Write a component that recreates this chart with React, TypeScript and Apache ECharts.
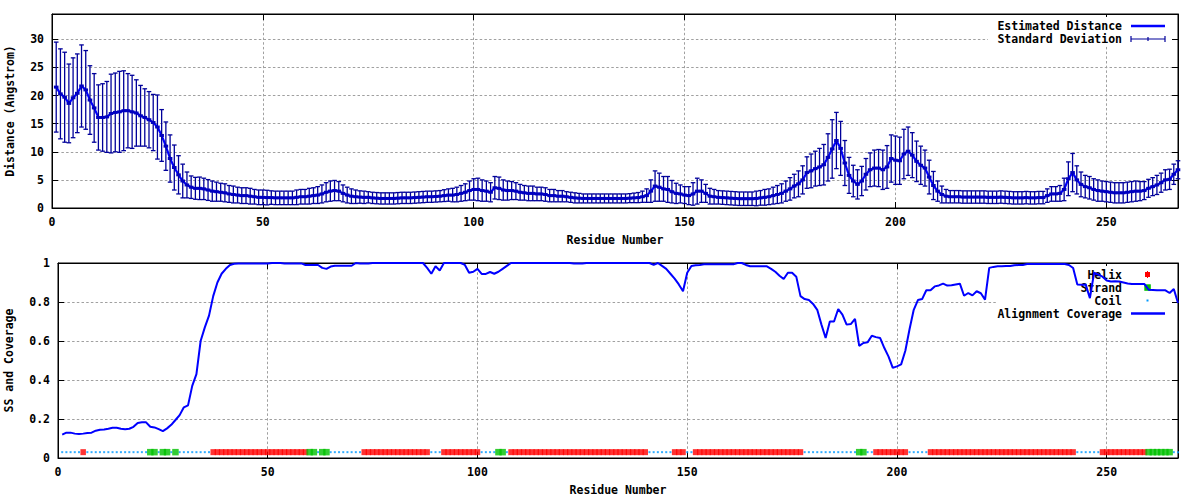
import React, { useEffect, useRef } from "react";
import * as echarts from "echarts";

// ---------- data (residues 1..267) ----------
const distanceMean = [
  21.5, 20.3, 19.7, 18.6, 19.6, 20.4, 21.7, 21.0, 19.2, 17.8,
  16.1, 16.1, 16.2, 16.8, 17.0, 17.1, 17.3, 17.3, 17.1, 16.9,
  16.4, 16.1, 15.7, 15.2, 14.4, 12.9, 11.0, 8.8, 7.2, 5.9,
  4.8, 4.1, 3.7, 3.5, 3.5, 3.4, 3.2, 3.0, 2.9, 2.8,
  2.7, 2.5, 2.4, 2.3, 2.2, 2.2, 2.1, 2.0, 1.9, 1.9,
  1.85, 1.85, 1.8, 1.8, 1.8, 1.8, 1.8, 1.9, 2.0, 2.0,
  2.1, 2.2, 2.3, 2.5, 2.8, 3.0, 3.1, 3.0, 2.6, 2.3,
  2.1, 2.0, 1.95, 1.9, 1.9, 1.8, 1.75, 1.7, 1.7, 1.7,
  1.7, 1.75, 1.8, 1.8, 1.8, 1.85, 1.9, 1.95, 2.0, 2.0,
  2.05, 2.1, 2.2, 2.3, 2.3, 2.4, 2.6, 2.8, 3.1, 3.3,
  3.3, 3.1, 3.0, 2.8, 3.6, 3.5, 3.2, 3.1, 3.1, 3.0,
  2.8, 2.7, 2.6, 2.6, 2.5, 2.5, 2.4, 2.2, 2.2, 2.1,
  2.1, 2.0, 1.9, 1.8, 1.75, 1.7, 1.7, 1.7, 1.7, 1.7,
  1.7, 1.7, 1.7, 1.7, 1.7, 1.7, 1.75, 1.8, 1.85, 2.0,
  2.2, 3.0, 3.9, 3.7, 3.4, 3.3, 2.9, 2.6, 2.5, 2.3,
  2.2, 2.5, 3.0, 3.0, 2.6, 2.1, 2.0, 1.9, 1.85, 1.8,
  1.75, 1.7, 1.65, 1.65, 1.65, 1.65, 1.7, 1.8, 1.9, 2.0,
  2.2, 2.4, 2.6, 3.0, 3.4, 3.9, 4.3, 5.0, 6.3, 6.6,
  7.0, 7.3, 7.7, 9.0, 10.5, 12.0, 10.6, 8.0, 5.8, 4.8,
  4.2, 4.8, 6.0, 6.8, 7.1, 7.1, 6.8, 7.3, 8.8, 8.5,
  8.4, 9.6, 10.1, 9.4, 8.3, 7.6, 7.1, 5.5, 4.0, 3.0,
  2.4, 2.1, 2.0, 2.0, 2.0, 1.95, 1.95, 1.95, 1.95, 1.95,
  1.95, 1.9, 1.9, 1.9, 1.95, 1.9, 1.85, 1.8, 1.8, 1.8,
  1.85, 1.8, 1.8, 1.85, 1.85, 2.2, 2.5, 2.5, 2.6, 3.3,
  5.2, 6.3, 5.0, 4.2, 3.8, 3.6, 3.3, 3.1, 3.0, 2.9,
  2.8, 2.7, 2.7, 2.7, 2.8, 2.9, 3.0, 3.0, 3.1, 3.5,
  3.8, 4.1, 4.5, 5.0, 5.1, 6.0, 6.8,
];

const distanceSd = [
  8.0, 8.0, 8.0, 7.0, 7.1, 7.0, 7.3, 7.0, 6.1, 6.1,
  5.8, 6.0, 6.3, 7.0, 7.0, 7.2, 7.1, 6.6, 6.5, 5.9,
  5.4, 5.1, 5.0, 5.0, 5.7, 4.6, 4.3, 4.2, 4.0, 3.4,
  3.0, 2.3, 2.0, 1.95, 2.0, 1.9, 1.85, 1.8, 1.7, 1.6,
  1.6, 1.5, 1.5, 1.4, 1.4, 1.4, 1.4, 1.3, 1.3, 1.3,
  1.3, 1.2, 1.2, 1.2, 1.2, 1.2, 1.2, 1.3, 1.3, 1.3,
  1.4, 1.4, 1.5, 1.6, 1.7, 1.8, 1.8, 1.7, 1.5, 1.4,
  1.3, 1.2, 1.1, 1.1, 1.0, 1.0, 1.0, 1.0, 1.0, 1.0,
  1.0, 1.0, 1.0, 1.0, 1.0, 1.0, 1.0, 1.0, 1.0, 1.0,
  1.0, 1.0, 1.05, 1.1, 1.2, 1.3, 1.4, 1.5, 1.7, 1.9,
  2.0, 1.9, 1.8, 1.7, 2.0, 2.0, 1.8, 1.7, 1.6, 1.5,
  1.4, 1.3, 1.3, 1.3, 1.2, 1.2, 1.2, 1.1, 1.1, 1.0,
  1.0, 0.9, 0.9, 0.9, 0.85, 0.8, 0.8, 0.8, 0.8, 0.8,
  0.8, 0.8, 0.8, 0.8, 0.8, 0.8, 0.8, 0.85, 0.9, 1.0,
  1.2, 2.0, 2.7, 2.5, 2.2, 2.3, 2.0, 1.8, 1.6, 1.5,
  1.6, 2.0, 2.3, 2.0, 1.6, 1.4, 1.3, 1.2, 1.2, 1.2,
  1.2, 1.2, 1.2, 1.2, 1.2, 1.2, 1.3, 1.3, 1.4, 1.4,
  1.5, 1.6, 1.7, 1.8, 2.0, 2.1, 2.3, 2.5, 2.8, 3.0,
  3.1, 3.3, 3.6, 4.2, 5.2, 5.0, 4.8, 4.0, 3.2, 2.8,
  2.6, 2.6, 2.8, 3.0, 3.2, 3.3, 3.5, 3.8, 4.2, 4.3,
  4.2, 4.4, 4.3, 4.0, 3.6, 3.4, 3.2, 3.0, 2.5, 1.8,
  1.5, 1.2, 1.1, 1.1, 1.1, 1.1, 1.1, 1.1, 1.1, 1.1,
  1.1, 1.1, 1.1, 1.1, 1.1, 1.1, 1.1, 1.1, 1.1, 1.1,
  1.1, 1.1, 1.1, 1.1, 1.1, 1.2, 1.3, 1.3, 1.4, 2.0,
  3.0, 3.4, 2.5, 2.2, 2.0, 2.0, 1.9, 1.9, 1.8, 1.8,
  1.8, 1.8, 1.8, 1.8, 1.8, 1.8, 1.8, 1.7, 1.6, 1.6,
  1.6, 1.7, 1.7, 1.8, 1.8, 1.8, 1.6,
];

const coverage = [
  0.12, 0.13, 0.13, 0.125, 0.123, 0.125, 0.128, 0.13, 0.14, 0.145,
  0.146, 0.15, 0.155, 0.155, 0.15, 0.148, 0.15, 0.16, 0.18, 0.183,
  0.183, 0.16, 0.157, 0.148, 0.138, 0.152, 0.17, 0.195, 0.22, 0.26,
  0.27, 0.37, 0.43, 0.6, 0.67, 0.73, 0.83, 0.9, 0.945, 0.97,
  0.99, 0.996, 0.997, 0.997, 0.997, 0.997, 0.997, 0.997, 0.997, 0.997,
  1.0, 1.0, 1.0, 0.998, 0.998, 0.998, 0.998, 0.998, 0.99, 0.99,
  0.99, 0.99, 0.975, 0.97, 0.982, 0.986, 0.986, 0.986, 0.986, 0.986,
  1.0, 0.997, 0.997, 0.997, 1.0, 1.0, 1.0, 1.0, 1.0, 1.0,
  1.0, 1.0, 1.0, 1.0, 1.0, 1.0, 1.0, 0.975, 0.945, 0.983,
  0.962, 1.0, 1.0, 1.0, 1.0, 1.0, 0.99, 0.95, 0.955, 0.97,
  0.944, 0.944, 0.954, 0.945, 0.955, 0.97, 0.985, 1.0, 1.0, 1.0,
  1.0, 1.0, 1.0, 1.0, 1.0, 1.0, 1.0, 1.0, 1.0, 1.0,
  1.0, 1.0, 0.997, 0.997, 0.997, 1.0, 1.0, 1.0, 1.0, 1.0,
  1.0, 1.0, 1.0, 1.0, 1.0, 1.0, 1.0, 1.0, 1.0, 1.0,
  1.0, 0.99, 1.0, 0.985, 0.97, 0.945, 0.92, 0.89, 0.855, 0.95,
  0.985, 0.988, 0.99, 0.993, 0.993, 0.993, 0.993, 0.993, 0.993, 0.993,
  0.993, 1.0, 1.0, 0.99, 0.983, 0.983, 0.983, 0.983, 0.983, 0.97,
  0.955, 0.935, 0.918, 0.95, 0.95, 0.93, 0.83, 0.815, 0.81, 0.79,
  0.76, 0.684, 0.615, 0.7, 0.7, 0.764, 0.735, 0.684, 0.687, 0.713,
  0.575, 0.59, 0.593, 0.627, 0.62, 0.615, 0.564, 0.52, 0.462, 0.47,
  0.48, 0.55, 0.66, 0.76, 0.81, 0.815, 0.86, 0.86, 0.88, 0.885,
  0.894, 0.884, 0.886, 0.89, 0.894, 0.832, 0.846, 0.834, 0.855, 0.845,
  0.812, 0.975, 0.98, 0.983, 0.983, 0.985, 0.985, 0.988, 0.99, 0.99,
  0.995, 0.995, 0.995, 0.995, 0.995, 0.995, 0.995, 0.995, 0.995, 0.995,
  0.99, 0.974, 0.89, 0.889, 0.889, 0.82, 0.95, 0.94, 0.93, 0.91,
  0.905, 0.906, 0.905, 0.9, 0.895, 0.892, 0.892, 0.892, 0.892, 0.863,
  0.862, 0.86, 0.86, 0.86, 0.846, 0.867, 0.795,
];

// secondary structure runs [first residue, last residue]
const helixRuns = [
  [6, 6], [37, 59], [73, 88], [92, 100], [108, 140], [147, 149],
  [152, 177], [195, 202], [208, 242], [249, 259],
];
const strandRuns = [
  [22, 23], [25, 26], [28, 28], [60, 61], [63, 64], [105, 106],
  [191, 192], [260, 265],
];
const ssLevel = 0.03;

const distTicks = { min: 0, max: 34.5, interval: 5 };
const covTicks = { min: 0, max: 1, interval: 0.2 };
const residueTicks = { min: 0, max: 267, interval: 50 };

// ---------- styling ----------
const FONT = "'DejaVu Sans Mono', 'Liberation Mono', monospace";
const NAVY = "#00009a";
const BLUE = "#0000ff";

function inRuns(r: number, runs: number[][]) {
  return runs.some(([a, b]) => r >= a && r <= b);
}

export default function App() {
  const ref = useRef<HTMLDivElement>(null);

  useEffect(() => {
    if (!ref.current) return;
    const chart = echarts.init(ref.current, null, { renderer: "svg" });

    const n = distanceMean.length;
    const residues = distanceMean.map((_, i) => i + 1);
    const meanData = residues.map((r, i) => [r, distanceMean[i]]);
    const errData = residues.map((r, i) => [
      r,
      distanceMean[i] - distanceSd[i],
      distanceMean[i] + distanceSd[i],
      distanceMean[i],
    ]);
    const covData = residues.map((r, i) => [r, coverage[i]]);
    const helixData: number[][] = [];
    const strandData: number[][] = [];
    const coilData: number[][] = [];
    for (let r = 1; r <= n; r++) {
      if (inRuns(r, strandRuns)) strandData.push([r, ssLevel]);
      else if (inRuns(r, helixRuns)) helixData.push([r, ssLevel]);
      else coilData.push([r, ssLevel]);
    }

    const label = {
      color: "#000",
      fontFamily: FONT,
      fontWeight: "bold",
      fontSize: 11.5,
      margin: 8,
      showMaxLabel: false,
    };
    const split = {
      show: true,
      showMinLine: false,
      showMaxLine: false,
      lineStyle: { color: "#a0a0a0", type: [2.5, 2.2], width: 1 },
    };
    const tick = { show: true, inside: true, length: 6, lineStyle: { color: "#000", width: 1 } };
    const line = { show: true, onZero: false, lineStyle: { color: "#000", width: 1 } };
    const nameStyle = { color: "#000", fontFamily: FONT, fontWeight: "bold", fontSize: 11.5 };

    const xMain = (gridIndex: number) => ({
      type: "value",
      gridIndex,
      position: "bottom",
      ...residueTicks,
      axisLine: line,
      axisTick: tick,
      axisLabel: label,
      splitLine: split,
      name: "Residue Number",
      nameLocation: "middle",
      nameGap: 26,
      nameTextStyle: nameStyle,
    });
    const xMirror = (gridIndex: number) => ({
      type: "value",
      gridIndex,
      position: "top",
      ...residueTicks,
      axisLine: line,
      axisTick: tick,
      axisLabel: { show: false },
      splitLine: { show: false },
    });

    const errorRender = (params: any, api: any) => {
      const x = api.value(0);
      const lo = api.coord([x, api.value(1)]);
      const hi = api.coord([x, api.value(2)]);
      const m = api.coord([x, api.value(3)]);
      const st = { stroke: NAVY, lineWidth: 1.3, fill: null };
      const cap = 2.3;
      return {
        type: "group",
        children: [
          { type: "line", shape: { x1: lo[0], y1: lo[1], x2: hi[0], y2: hi[1] }, style: st },
          { type: "line", shape: { x1: lo[0] - cap, y1: lo[1], x2: lo[0] + cap, y2: lo[1] }, style: st },
          { type: "line", shape: { x1: hi[0] - cap, y1: hi[1], x2: hi[0] + cap, y2: hi[1] }, style: st },
          {
            type: "line",
            shape: { x1: m[0] - 2.3, y1: m[1], x2: m[0] + 2.3, y2: m[1] },
            style: { stroke: "#0000c0", lineWidth: 3, fill: null },
          },
        ],
      };
    };

    const legendText = (text: string, y: number) => ({
      type: "text",
      z: 1,
      x: 1122,
      y,
      style: {
        text,
        fill: "#000",
        font: `bold 11.5px ${FONT}`,
        textAlign: "right",
        textVerticalAlign: "middle",
      },
    });

    const gridBase = {
      show: true,
      borderColor: "#000",
      borderWidth: 1,
      backgroundColor: "transparent",
      containLabel: false,
      outerBoundsMode: "none",
    };

    const option: any = {
      animation: false,
      backgroundColor: "#fff",
      grid: [
        { ...gridBase, left: 52, top: 14, width: 1126, height: 194 },
        { ...gridBase, left: 58, top: 263, width: 1120, height: 195 },
      ],
      xAxis: [xMain(0), xMirror(0), xMain(1), xMirror(1)],
      yAxis: [
        {
          type: "value",
          gridIndex: 0,
          position: "left",
          ...distTicks,
          axisLine: line,
          axisTick: tick,
          axisLabel: label,
          splitLine: split,
          name: "Distance (Angstrom)",
          nameLocation: "middle",
          nameRotate: 90,
          nameGap: 36,
          nameTextStyle: nameStyle,
        },
        {
          type: "value",
          gridIndex: 0,
          position: "right",
          ...distTicks,
          axisLine: line,
          axisTick: tick,
          axisLabel: { show: false },
          splitLine: { show: false },
        },
        {
          type: "value",
          gridIndex: 1,
          position: "left",
          ...covTicks,
          axisLine: line,
          axisTick: tick,
          axisLabel: { ...label, showMaxLabel: true },
          splitLine: split,
          name: "SS and Coverage",
          nameLocation: "middle",
          nameRotate: 90,
          nameGap: 43,
          nameTextStyle: nameStyle,
        },
        {
          type: "value",
          gridIndex: 1,
          position: "right",
          ...covTicks,
          axisLine: line,
          axisTick: tick,
          axisLabel: { show: false },
          splitLine: { show: false },
        },
      ],
      graphic: [
        // opaque key areas (hide grid lines beneath the keys)
        { type: "rect", z: 1, shape: { x: 988, y: 17, width: 184, height: 29 }, style: { fill: "#fff" } },
        { type: "rect", z: 1, shape: { x: 997, y: 266, width: 175, height: 54 }, style: { fill: "#fff" } },
        legendText("Estimated Distance", 26),
        { type: "line", z: 1, shape: { x1: 1131, y1: 26, x2: 1165, y2: 26 }, style: { stroke: BLUE, lineWidth: 2.5 } },
        legendText("Standard Deviation", 39),
        { type: "line", z: 1, shape: { x1: 1131, y1: 39, x2: 1165, y2: 39 }, style: { stroke: NAVY, lineWidth: 1.2 } },
        { type: "line", z: 1, shape: { x1: 1131, y1: 36, x2: 1131, y2: 42 }, style: { stroke: NAVY, lineWidth: 1.2 } },
        { type: "line", z: 1, shape: { x1: 1165, y1: 36, x2: 1165, y2: 42 }, style: { stroke: NAVY, lineWidth: 1.2 } },
        { type: "line", z: 1, shape: { x1: 1148, y1: 37, x2: 1148, y2: 41 }, style: { stroke: NAVY, lineWidth: 1.2 } },
        legendText("Helix", 274.5),
        { type: "rect", z: 1, shape: { x: 1145, y: 272, width: 5, height: 5 }, style: { fill: "#ff0000" } },
        { type: "rect", z: 1, shape: { x: 1147, y: 271, width: 1, height: 7 }, style: { fill: "#ff0000" } },
        legendText("Strand", 287.5),
        { type: "rect", z: 1, shape: { x: 1144.3, y: 284.3, width: 6.5, height: 6.5 }, style: { fill: "#00c000" } },
        legendText("Coil", 300.5),
        { type: "rect", z: 1, shape: { x: 1146.5, y: 299.5, width: 2, height: 2 }, style: { fill: "#0099ff" } },
        legendText("Alignment Coverage", 313.5),
        { type: "line", z: 1, shape: { x1: 1131, y1: 313.5, x2: 1165, y2: 313.5 }, style: { stroke: BLUE, lineWidth: 2.5 } },
      ],
      series: [
        {
          name: "Estimated Distance",
          type: "line",
          xAxisIndex: 0,
          yAxisIndex: 0,
          data: meanData,
          showSymbol: false,
          lineStyle: { color: BLUE, width: 2.2 },
          z: 2,
        },
        {
          name: "Standard Deviation",
          type: "custom",
          xAxisIndex: 0,
          yAxisIndex: 0,
          data: errData,
          encode: { x: 0, y: [1, 2] },
          renderItem: errorRender,
          z: 3,
        },
        {
          name: "Coil",
          type: "scatter",
          xAxisIndex: 2,
          yAxisIndex: 2,
          data: coilData,
          symbol: "rect",
          symbolSize: 2,
          itemStyle: { color: "#0099ff" },
          z: 2,
        },
        {
          name: "Helix",
          type: "scatter",
          xAxisIndex: 2,
          yAxisIndex: 2,
          data: helixData,
          symbol: "rect",
          symbolSize: [5.5, 6],
          itemStyle: { color: "#ff0000" },
          z: 3,
        },
        {
          name: "Strand",
          type: "scatter",
          xAxisIndex: 2,
          yAxisIndex: 2,
          data: strandData,
          symbol: "rect",
          symbolSize: 6.5,
          itemStyle: { color: "#00c000" },
          z: 4,
        },
        {
          name: "Alignment Coverage",
          type: "line",
          xAxisIndex: 2,
          yAxisIndex: 2,
          data: covData,
          showSymbol: false,
          lineStyle: { color: BLUE, width: 2 },
          z: 5,
        },
      ],
    };

    chart.setOption(option);
    return () => chart.dispose();
  }, []);

  return (
    <div
      ref={ref}
      style={{ position: "fixed", left: 0, top: 0, width: 1200, height: 500, background: "#fff" }}
    />
  );
}
